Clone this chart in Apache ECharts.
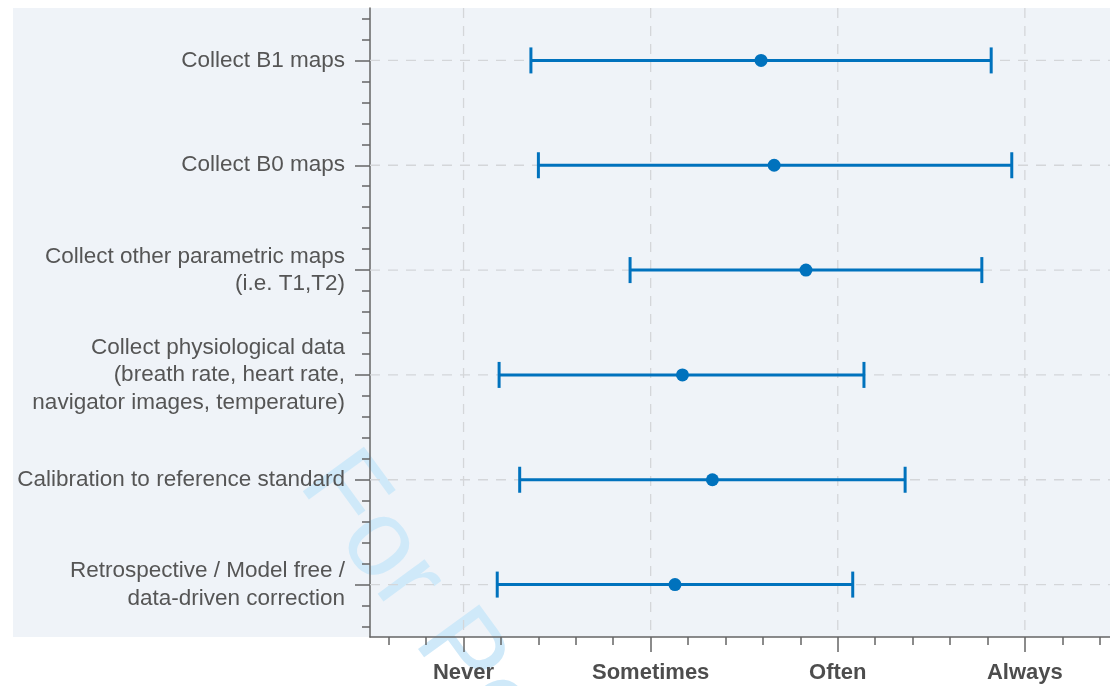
<!DOCTYPE html>
<html lang="en" style="height: 100%">
<head>
  <meta charset="utf-8">
</head>
<body style="height: 100%; margin: 0; background: #fff">
  <div id="container" style="width: 1110px; height: 686px"></div>

  <script type="text/javascript" src="https://cdn.jsdelivr.net/npm/echarts@6/dist/echarts.min.js"></script>
  <script type="text/javascript">
    // survey items, top to bottom
    const categories = [
      'Collect B1 maps',
      'Collect B0 maps',
      'Collect other parametric maps\n(i.e. T1,T2)',
      'Collect physiological data\n(breath rate, heart rate,\nnavigator images, temperature)',
      'Calibration to reference standard',
      'Retrospective / Model free /\ndata-driven correction'
    ];
    // 1 = Never, 2 = Sometimes, 3 = Often, 4 = Always
    const lows = [1.36, 1.40, 1.89, 1.19, 1.30, 1.18];
    const means = [2.59, 2.66, 2.83, 2.17, 2.33, 2.13];
    const highs = [3.82, 3.93, 3.77, 3.14, 3.36, 3.08];
    const xLabels = ['Never', 'Sometimes', 'Often', 'Always'];

    const blue = '#0072bd';
    const axisGray = '#666666';

    const yIdx = categories.map((c, i) => i + 1);
    const xMajor = xLabels.map((l, i) => i + 1);
    const xMinor = [];
    for (let k = 3; k <= 22; k++) if (k % 5) xMinor.push(k / 5);
    const yMinor = [];
    for (let k = 3; k <= 32; k++) if (k % 5) yMinor.push(k / 5);

    var dom = document.getElementById('container');
    const myChart = echarts.init(dom, null, { renderer: 'canvas' });

    const gridLine = { stroke: '#d4d6d9', lineWidth: 1.3, lineDash: [10, 8] };

    var option = {
      animation: false,
      graphic: [
        {
          type: 'rect', z: -20, silent: true,
          shape: { x: 13, y: 8, width: 1097, height: 629 },
          style: { fill: '#eff3f8' }
        },
        {
          type: 'text', z: -10, silent: true,
          x: 322, y: 466, rotation: -0.94,
          style: {
            text: 'For Peer Review',
            fill: '#cfe9f9',
            font: '110px "Liberation Sans", Arial, sans-serif',
            textAlign: 'left',
            textVerticalAlign: 'middle'
          }
        }
      ],
      grid: { left: 370, right: 0, top: 8, bottom: 49 },
      xAxis: [
        {
          type: 'value', min: 0.5, max: 4.455,
          axisLine: { show: true, lineStyle: { color: axisGray, width: 1.5 } },
          axisTick: { show: true, customValues: xMajor, length: 15, lineStyle: { color: axisGray, width: 1.5 } },
          axisLabel: {
            customValues: xMajor, margin: 25,
            formatter: v => xLabels[Math.round(v) - 1],
            color: '#4d4d4d', fontSize: 22, fontWeight: 'bold',
            fontFamily: '"Liberation Sans", Arial, sans-serif'
          },
          splitLine: { show: false }
        },
        {
          type: 'value', min: 0.5, max: 4.455, position: 'bottom', offset: 0,
          axisLine: { show: false },
          axisTick: { show: true, customValues: xMinor, length: 8, lineStyle: { color: axisGray, width: 1.5 } },
          axisLabel: { show: false },
          splitLine: { show: false }
        }
      ],
      yAxis: [
        {
          type: 'value', min: 0.5, max: 6.5, inverse: true,
          axisLine: { show: true, lineStyle: { color: axisGray, width: 1.5 } },
          axisTick: { show: true, customValues: yIdx, length: 15, lineStyle: { color: axisGray, width: 1.5 } },
          axisLabel: {
            customValues: yIdx, margin: 25,
            formatter: v => categories[Math.round(v) - 1],
            color: '#555555', fontSize: 22.5, lineHeight: 27.5,
            fontFamily: '"Liberation Sans", Arial, sans-serif',
            align: 'right'
          },
          splitLine: { show: false }
        },
        {
          type: 'value', min: 0.5, max: 6.5, inverse: true, position: 'left', offset: 0,
          axisLine: { show: false },
          axisTick: { show: true, customValues: yMinor, length: 8, lineStyle: { color: axisGray, width: 1.5 } },
          axisLabel: { show: false },
          splitLine: { show: false }
        }
      ],
      series: [
        {
          // vertical dashed grid lines at each answer level
          type: 'custom', z: 1, silent: true,
          data: xMajor.map(v => [v, 1]),
          renderItem: function (params, api) {
            const cs = params.coordSys;
            const x = api.coord([api.value(0), 1])[0];
            return { type: 'line', shape: { x1: x, y1: cs.y, x2: x, y2: cs.y + cs.height }, style: gridLine };
          }
        },
        {
          // horizontal dashed grid lines at each item
          type: 'custom', z: 1, silent: true,
          data: yIdx.map(i => [1, i]),
          renderItem: function (params, api) {
            const cs = params.coordSys;
            const y = api.coord([1, api.value(1)])[1];
            return { type: 'line', shape: { x1: cs.x, y1: y, x2: cs.x + cs.width, y2: y }, style: gridLine };
          }
        },
        {
          type: 'custom', z: 3,
          data: yIdx.map((y, i) => [lows[i], highs[i], y]),
          encode: { x: [0, 1], y: 2 },
          renderItem: function (params, api) {
            const a = api.coord([api.value(0), api.value(2)]);
            const b = api.coord([api.value(1), api.value(2)]);
            const h = 13;
            const st = { stroke: blue, lineWidth: 3 };
            return {
              type: 'group',
              children: [
                { type: 'line', shape: { x1: a[0], y1: a[1], x2: b[0], y2: b[1] }, style: st },
                { type: 'line', shape: { x1: a[0], y1: a[1] - h, x2: a[0], y2: a[1] + h }, style: st },
                { type: 'line', shape: { x1: b[0], y1: b[1] - h, x2: b[0], y2: b[1] + h }, style: st }
              ]
            };
          }
        },
        {
          type: 'scatter', z: 4,
          symbol: 'circle', symbolSize: 13,
          itemStyle: { color: blue, opacity: 1 },
          data: yIdx.map((y, i) => [means[i], y])
        }
      ]
    };

    myChart.setOption(option);
    window.addEventListener('resize', myChart.resize);
  </script>
</body>
</html>
